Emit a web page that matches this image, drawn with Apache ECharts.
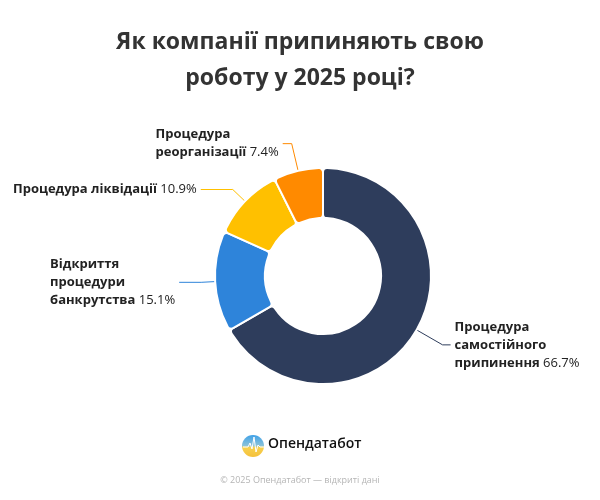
<!DOCTYPE html>
<html>
<head>
<meta charset="utf-8">
<script src="https://cdn.jsdelivr.net/npm/echarts@6/dist/echarts.min.js"></script>
<style>
html,body{margin:0;padding:0;background:#fff;}
#chart{width:600px;height:500px;}
</style>
</head>
<body>
<div id="chart"></div>
<script>
var categories = [
  'Процедура\nсамостійного\nприпинення',
  'Відкриття\nпроцедури\nбанкрутства',
  'Процедура ліквідації',
  'Процедура\nреорганізації'
];
var values = [66.7, 15.1, 10.9, 7.4];
var colors = ['#2E3D5C', '#2E84DA', '#FFC000', '#FF8A00'];
var lineLengths = [[30, 8], [14, 22], [17, 32], [28, 9]];

var chart = echarts.init(document.getElementById('chart'));
var FONT = '"Open Sans", "Noto Sans", sans-serif';

function labelFmt(p) {
  var lines = p.name.split('\n');
  var out = [];
  for (var i = 0; i < lines.length; i++) {
    if (i < lines.length - 1) out.push('{b|' + lines[i] + '}');
    else out.push('{b|' + lines[i] + '} {n|' + p.value.toFixed(1) + '%}');
  }
  return out.join('\n');
}

var data = categories.map(function (c, i) {
  return {
    name: c,
    value: values[i],
    itemStyle: { color: colors[i] },
    labelLine: { length: lineLengths[i][0], length2: lineLengths[i][1] }
  };
});

chart.setOption({
  backgroundColor: '#fff',
  title: {
    text: 'Як компанії припиняють свою\nроботу у 2025 році?',
    left: 'center',
    top: 19,
    textStyle: {
      fontFamily: FONT,
      fontSize: 23,
      fontWeight: 'bold',
      color: '#333',
      lineHeight: 36
    }
  },
  series: [{
    type: 'pie',
    center: [323, 276],
    radius: [58, 108],
    startAngle: 90,
    clockwise: true,
    avoidLabelOverlap: false,
    itemStyle: { borderColor: '#fff', borderWidth: 2, borderRadius: 4 },
    label: {
      show: true,
      formatter: labelFmt,
      distanceToLabelLine: 4,
      rich: {
        b: { fontFamily: FONT, fontSize: 13, fontWeight: 'bold', color: '#222', lineHeight: 18, align: 'left' },
        n: { fontFamily: FONT, fontSize: 13, color: '#222', lineHeight: 18, align: 'left' }
      }
    },
    labelLine: { show: true, lineStyle: { width: 1 } },
    data: data
  }],
  graphic: [
    {
      type: 'circle',
      shape: { cx: 253, cy: 446, r: 11 },
      style: {
        fill: {
          type: 'linear', x: 0, y: 0, x2: 0, y2: 1,
          colorStops: [
            { offset: 0, color: '#3FA1E8' },
            { offset: 0.5, color: '#8CC3D8' },
            { offset: 0.55, color: '#F7D250' },
            { offset: 1, color: '#F5C03A' }
          ]
        }
      }
    },
    {
      type: 'polyline',
      shape: { points: [[243, 447], [248, 447], [250, 443], [252, 449], [254, 437], [256, 452], [258, 445], [260, 447], [264, 447]] },
      style: { stroke: '#fff', lineWidth: 1, fill: null }
    },
    {
      type: 'text',
      left: 268,
      top: 437,
      style: { text: 'Опендатабот', font: '600 14px ' + FONT, fill: '#111' }
    },
    {
      type: 'text',
      left: 'center',
      top: 476,
      style: { text: '© 2025 Опендатабот — відкриті дані', font: '9px ' + FONT, fill: '#b5b5b5' }
    }
  ]
});
</script>
</body>
</html>
